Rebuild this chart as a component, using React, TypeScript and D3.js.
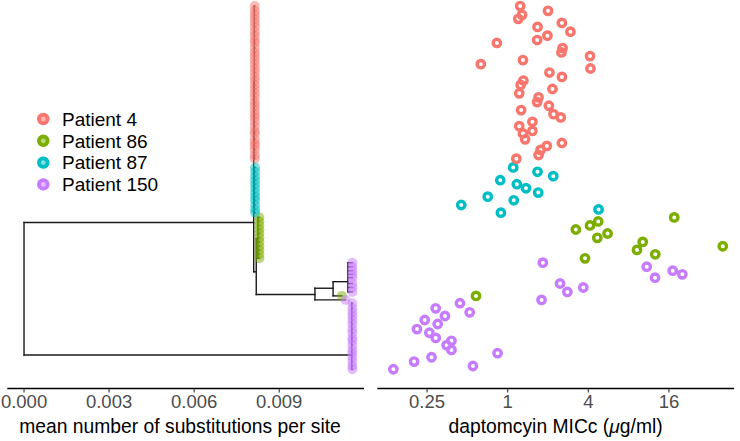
import React from "react";
import * as d3 from "d3";

// ---------- data ----------
const patients = ["Patient 4", "Patient 86", "Patient 87", "Patient 150"];
const colors = ["#F8766D", "#7CAE00", "#00BFC4", "#C77CFF"];

// daptomycin MICc (ug/ml) and tree tip row (0 = top, 100 = bottom)
const p4Mic = [1.24, 1.28, 1.2, 2.0, 2.54, 2.94, 1.67, 1.98, 1.66, 0.83, 2.57, 2.52, 4.12, 4.15, 0.63, 1.3, 2.05, 2.54, 1.31, 1.25, 2.16, 1.22, 1.7, 1.66, 2.03, 1.26, 2.2, 2.49, 1.53, 1.22, 1.53, 1.3, 1.35, 2.54, 1.96, 1.76, 1.7, 1.16];
const p4Row = [0.3, 2.7, 3.8, 1.6, 4.9, 7.3, 6.0, 8.4, 9.6, 10.4, 11.8, 13.0, 14.0, 17.4, 16.2, 15.1, 18.5, 19.7, 20.7, 21.9, 23.0, 24.2, 25.3, 26.6, 27.6, 28.8, 29.9, 30.8, 32.0, 33.2, 34.5, 35.2, 36.8, 37.8, 38.6, 39.7, 41.1, 42.1];

const p87Mic = [1.1, 1.67, 2.19, 0.88, 1.17, 1.37, 1.69, 0.71, 1.11, 0.45, 0.89, 4.77];
const p87Row = [44.5, 45.7, 46.9, 48.0, 49.1, 50.2, 51.4, 52.5, 53.5, 54.8, 56.9, 56.0];

const p86Mic = [17.53, 3.23, 4.12, 4.74, 5.57, 4.67, 10.2, 9.24, 12.66, 40.4, 3.78, 0.58];
const p86Row = [58.2, 61.5, 60.4, 59.3, 62.6, 63.8, 64.9, 67.1, 68.3, 66.1, 69.4, 79.7];

const p150Mic = [1.83, 10.92, 17.08, 20.15, 12.6, 2.46, 3.67, 2.79, 1.79, 0.44, 0.52, 0.29, 0.34, 0.24, 0.3, 0.21, 0.26, 0.29, 0.38, 0.35, 0.38, 0.84, 0.27, 0.2, 0.55, 0.14];
const p150Row = [70.6, 71.7, 72.8, 73.8, 74.7, 76.3, 77.4, 78.6, 80.8, 81.7, 84.2, 83.1, 85.2, 86.3, 87.4, 88.8, 89.8, 91.2, 92.0, 93.2, 94.5, 95.4, 96.5, 97.7, 98.9, 99.8];

// tree internal nodes
const nodeIds = ["R", "A", "Rc", "Cc", "B", "Gc", "C", "D", "P1", "P2"];
const nodeParent = [null, "R", "A", "A", "A", "B", "B", "C", "D", "R"];
const nodeDist = [0, 0.0081, 0.00812, 0.00812, 0.00819, 0.00825, 0.01026, 0.0109, 0.01142, 0.01156];
const nodeRow = [77.8, 59.6, 21.0, 50.5, 73.1, 64.0, 79.3, 77.6, 75.8, 95.9];

// tip parent node & tip distance (per isolate, same order as data arrays)
const p4Parent = p4Mic.map(() => "Rc");
const p4Dist = p4Mic.map(() => 0.00814);
const p87Parent = p87Mic.map(() => "Cc");
const p87Dist = p87Mic.map(() => 0.00815);
const p86Parent = ["Gc", "Gc", "Gc", "Gc", "Gc", "Gc", "Gc", "Gc", "Gc", "Gc", "Gc", "D"];
const p86Dist = [0.0083, 0.0083, 0.0083, 0.0083, 0.0083, 0.0083, 0.0083, 0.0083, 0.0083, 0.0083, 0.0083, 0.01121];
const p150Parent = ["P1", "P1", "P1", "P1", "P1", "P1", "P1", "P1", "C", "P2", "P2", "P2", "P2", "P2", "P2", "P2", "P2", "P2", "P2", "P2", "P2", "P2", "P2", "P2", "P2", "P2"];
const p150Dist = p150Parent.map((p) => (p === "C" ? 0.01134 : 0.01158));

const treeTicks = [0, 0.003, 0.006, 0.009];
const micTicks = [0.25, 1, 4, 16];

// ---------- build ----------
type Iso = { g: number; mic: number; row: number; parent: string; dist: number };
const groups = [
  { mic: p4Mic, row: p4Row, parent: p4Parent, dist: p4Dist },
  { mic: p86Mic, row: p86Row, parent: p86Parent, dist: p86Dist },
  { mic: p87Mic, row: p87Row, parent: p87Parent, dist: p87Dist },
  { mic: p150Mic, row: p150Row, parent: p150Parent, dist: p150Dist },
];
const isolates: Iso[] = [];
groups.forEach((gr, g) =>
  gr.mic.forEach((m, i) =>
    isolates.push({ g, mic: m, row: gr.row[i], parent: gr.parent[i], dist: gr.dist[i] })
  )
);

const FONT = "'Liberation Sans', Arial, Helvetica, sans-serif";

export default function App() {
  const yScale = d3.scaleLinear().domain([0, 100]).range([5, 370]);
  const xTree = d3.scaleLinear().domain([-0.00059, 0.01199]).range([7.3, 364]);
  const xMic = d3.scaleLog().base(2).domain([0.1062, 49.0]).range([377.3, 734]);
  const axisY = 388.5;

  const nodeIdx = (id: string) => nodeIds.indexOf(id);

  const childRows: Record<string, number[]> = {};
  nodeIds.forEach((id) => (childRows[id] = []));
  nodeIds.forEach((id, i) => {
    const p = nodeParent[i];
    if (p) childRows[p].push(nodeRow[i]);
  });
  isolates.forEach((d) => childRows[d.parent].push(d.row));

  const lines: JSX.Element[] = [];
  nodeIds.forEach((id, i) => {
    const p = nodeParent[i];
    if (!p) return;
    const pi = nodeIdx(p);
    lines.push(
      <line key={"hn" + id} x1={xTree(nodeDist[pi])} x2={xTree(nodeDist[i])} y1={yScale(nodeRow[i])} y2={yScale(nodeRow[i])} />
    );
  });
  nodeIds.forEach((id, i) => {
    const rows = childRows[id];
    if (!rows.length) return;
    const [mn, mx] = d3.extent(rows) as [number, number];
    lines.push(
      <line key={"v" + id} x1={xTree(nodeDist[i])} x2={xTree(nodeDist[i])} y1={yScale(mn)} y2={yScale(mx)} />
    );
  });
  isolates.forEach((d, k) => {
    const pi = nodeIdx(d.parent);
    lines.push(
      <line key={"ht" + k} x1={xTree(nodeDist[pi])} x2={xTree(d.dist)} y1={yScale(d.row)} y2={yScale(d.row)} />
    );
  });

  const drawOrder = [2, 1, 3, 0];

  return (
    <svg width={740} height={441} style={{ position: "absolute", left: 0, top: 0, background: "#fff" }} fontFamily={FONT}>
      {/* tree */}
      <g stroke="#1a1a1a" strokeWidth={1.4} strokeLinecap="square">
        {lines}
      </g>
      <g>
        {isolates.map((d, k) => (
          <circle key={"tp" + k} cx={xTree(d.dist)} cy={yScale(d.row)} r={5} fill={colors[d.g]} fillOpacity={0.5} />
        ))}
      </g>

      {/* scatter */}
      <g>
        {drawOrder.map((g) =>
          isolates
            .filter((d) => d.g === g)
            .map((d, k) => (
              <circle key={"sp" + g + "_" + k} cx={xMic(d.mic)} cy={yScale(d.row)} r={3.7} fill="none" stroke={colors[g]} strokeWidth={3.4} />
            ))
        )}
      </g>

      {/* legend */}
      <g>
        {patients.map((p, i) => {
          const cy = 119 + i * 21.8;
          return (
            <g key={p}>
              <circle cx={43.3} cy={cy} r={6} fill={colors[i]} fillOpacity={0.5} />
              <circle cx={43.3} cy={cy} r={4.3} fill="none" stroke={colors[i]} strokeWidth={3.8} />
              <text x={62} y={cy + 6.8} fontSize={19} fill="#000">
                {p}
              </text>
            </g>
          );
        })}
      </g>

      {/* left axis */}
      <g>
        <line x1={xTree.range()[0]} x2={xTree.range()[1]} y1={axisY} y2={axisY} stroke="#000" strokeWidth={1.3} />
        {treeTicks.map((t) => (
          <g key={"tt" + t}>
            <line x1={xTree(t)} x2={xTree(t)} y1={axisY} y2={axisY + 4} stroke="#333" strokeWidth={1.1} />
            <text x={xTree(t)} y={408} textAnchor="middle" fontSize={18.5} fill="#4D4D4D">
              {d3.format(".3f")(t)}
            </text>
          </g>
        ))}
        <text x={180} y={433} textAnchor="middle" fontSize={19.3} fill="#000">
          mean number of substitutions per site
        </text>
      </g>

      {/* right axis */}
      <g>
        <line x1={xMic.range()[0]} x2={xMic.range()[1]} y1={axisY} y2={axisY} stroke="#000" strokeWidth={1.3} />
        {micTicks.map((t) => (
          <g key={"mt" + t}>
            <line x1={xMic(t)} x2={xMic(t)} y1={axisY} y2={axisY + 4} stroke="#333" strokeWidth={1.1} />
            <text x={xMic(t)} y={408} textAnchor="middle" fontSize={18.5} fill="#4D4D4D">
              {String(t)}
            </text>
          </g>
        ))}
        <text x={555.6} y={433} textAnchor="middle" fontSize={19.3} fill="#000">
          daptomcyin MICc (<tspan fontStyle="italic">μ</tspan>g/ml)
        </text>
      </g>
    </svg>
  );
}
